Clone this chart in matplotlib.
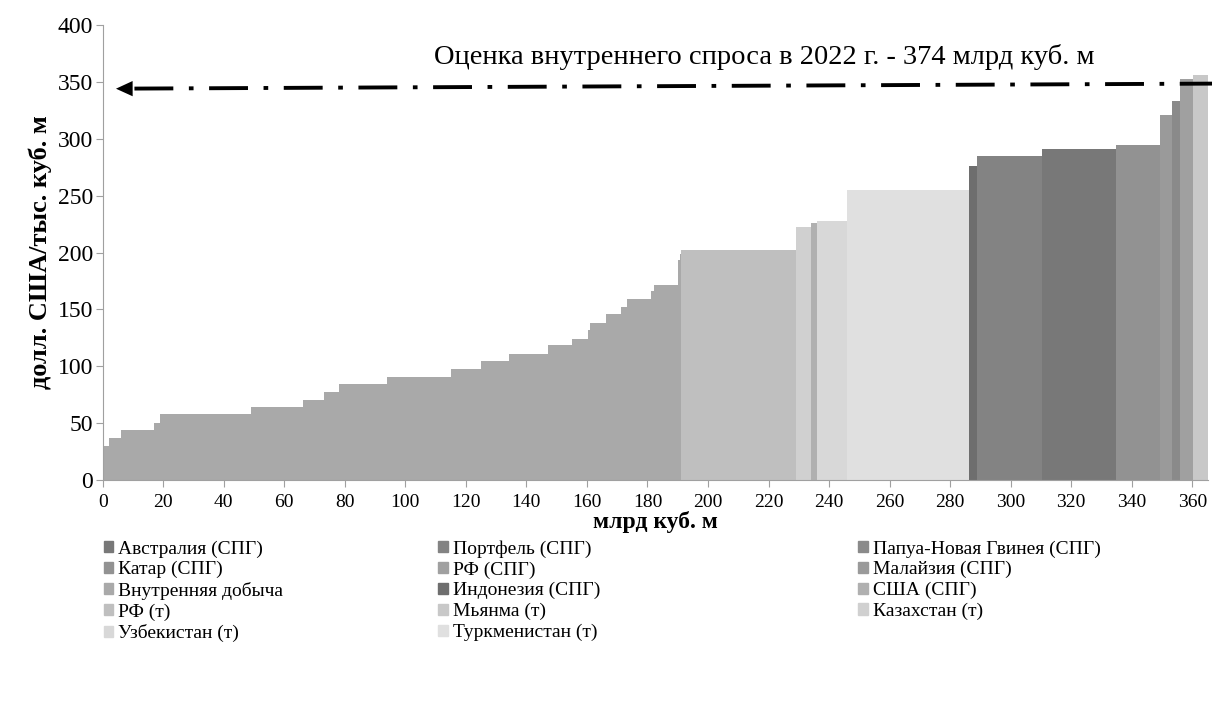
""" Supply curve of gas for China, 2022 """
import numpy as np
import matplotlib.pyplot as plt
from matplotlib.patches import Patch

plt.rcParams['font.family'] = ['Liberation Serif', 'DejaVu Serif']

# Supply curve order: (series, volume bcm, price $/tcm)
dom_vol = [2.1, 4.0, 10.9, 2.0, 30.0, 17.1, 7.0, 5.0, 16.0, 21.0, 10.0, 9.1,
           13.1, 7.9, 5.0, 0.9, 5.1, 5.0, 2.0, 8.0, 1.0, 7.9, 0.5, 0.6]
dom_price = [30, 37, 44, 50, 58, 64, 70, 77, 84, 91, 98, 105,
             111, 119, 124, 132, 138, 146, 152, 159, 166, 171, 193, 199]

imp_names = ["РФ (т)", "Казахстан (т)", "США (СПГ)", "Узбекистан (т)",
             "Туркменистан (т)", "Индонезия (СПГ)", "Портфель (СПГ)",
             "Австралия (СПГ)", "Катар (СПГ)", "Малайзия (СПГ)",
             "Папуа-Новая Гвинея (СПГ)", "РФ (СПГ)", "Мьянма (т)"]
imp_vol = [37.9, 5.0, 2.0, 9.9, 40.1, 2.9, 21.3, 24.6, 14.3, 4.1, 2.8, 4.0, 5.1]
imp_price = [202, 222, 225.6, 228, 255, 276, 285, 291, 294.5, 321, 333, 352.5, 356]

# legend order (row by row, 3 columns)
legend_names = ["Австралия (СПГ)", "Портфель (СПГ)", "Папуа-Новая Гвинея (СПГ)",
                "Катар (СПГ)", "РФ (СПГ)", "Малайзия (СПГ)",
                "Внутренняя добыча", "Индонезия (СПГ)", "США (СПГ)",
                "РФ (т)", "Мьянма (т)", "Казахстан (т)",
                "Узбекистан (т)", "Туркменистан (т)"]

colors = {
    "Австралия (СПГ)": "#787878", "Портфель (СПГ)": "#838383",
    "Папуа-Новая Гвинея (СПГ)": "#8a8a8a", "Катар (СПГ)": "#929292",
    "РФ (СПГ)": "#a0a0a0", "Малайзия (СПГ)": "#9a9a9a",
    "Внутренняя добыча": "#a9a9a9", "Индонезия (СПГ)": "#6e6e6e",
    "США (СПГ)": "#b0b0b0", "РФ (т)": "#bfbfbf", "Мьянма (т)": "#c8c8c8",
    "Казахстан (т)": "#d0d0d0", "Узбекистан (т)": "#d8d8d8",
    "Туркменистан (т)": "#e0e0e0",
}

demand_text = "Оценка внутреннего спроса в 2022 г. - 374 млрд куб. м"
demand_y = [344, 348.5]   # drawn arrow, left / right end

fig = plt.figure(figsize=(12.12, 7.08), dpi=100)
ax = fig.add_axes([0.0847, 0.322, 0.912, 0.6427])

# Bars from cumulative volumes
vols = np.array(dom_vol + imp_vol)
prices = np.array(dom_price + imp_price)
names = ["Внутренняя добыча"] * len(dom_vol) + imp_names
left = np.concatenate([[0], np.cumsum(vols)[:-1]])
for x0, w, h, n in zip(left, vols, prices, names):
    ax.bar(x0, h, width=w, align='edge', color=colors[n], linewidth=0)

total = vols.sum()
ax.set_xlim(0, total)
ax.set_ylim(0, 400)
ax.set_xticks(np.arange(0, 361, 20))
ax.set_yticks(np.arange(0, 401, 50))
ax.tick_params(axis='x', labelsize=14, colors='#a0a0a0', labelcolor='k', length=5, pad=5)
ax.tick_params(axis='y', labelsize=17, colors='#a0a0a0', labelcolor='k', length=5, pad=2)
for s in ['top', 'right']:
    ax.spines[s].set_visible(False)
for s in ['left', 'bottom']:
    ax.spines[s].set_color('#a0a0a0')
ax.set_xlabel("млрд куб. м", fontsize=17, fontweight='bold', labelpad=0)
ax.set_ylabel("долл. США/тыс. куб. м", fontsize=19, fontweight='bold', labelpad=4)

# Demand line with arrow
ax.plot([10.5, total + 4], [demand_y[0] + 0.1, demand_y[1]], color='k', lw=2.8,
        ls=(0, (10, 4, 1.2, 4)), clip_on=False)
ax.annotate('', xy=(4.4, demand_y[0]), xytext=(10.8, demand_y[0] + 0.05),
            arrowprops=dict(arrowstyle='-|>,head_length=1.2,head_width=0.55',
                            color='k', lw=0, shrinkA=0, shrinkB=0))
ax.text(218.5, 372, demand_text, fontsize=20.5, ha='center', va='center')

# Legend in three columns
handles = [Patch(color=colors[n], label=n) for n in legend_names]
col_x = [0.0855, 0.3615, 0.708]
for i in range(3):
    fig.legend(handles=handles[i::3], loc='upper left', bbox_to_anchor=(col_x[i], 0.237),
               frameon=False, fontsize=14, handlelength=0.5, handleheight=0.5,
               handletextpad=0.25, labelspacing=0.18, borderaxespad=0, borderpad=0)

fig.savefig("out.png", dpi=100)
